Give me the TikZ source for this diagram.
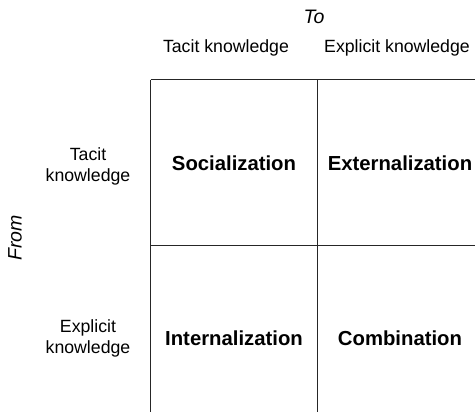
\documentclass[tikz,border=0pt]{standalone}
\usepackage{fontspec}
\setmainfont{Liberation Sans}
\tikzset{
	head/.style={font=\fontsize{17.7}{21}\selectfont, align=center},
	cell/.style={font=\fontsize{20.3}{24}\selectfont\bfseries},
	axis/.style={font=\fontsize{19.5}{23}\selectfont\itshape},
	grid/.style={line width=1pt, draw=black!85}
}
\begin{document}
\begin{tikzpicture}[x=1pt, y=-1pt]
			\useasboundingbox (0, 0) rectangle (475, 412);
			% griglia
			\coordinate (tl) at (150.5, 80);
			\coordinate (tm) at (317, 80);
			\coordinate (tr) at (475, 80);
			\coordinate (ml) at (150.5, 246);
			\coordinate (mr) at (475, 246);
			\coordinate (bl) at (150.5, 412);
			\coordinate (bm) at (317, 412);
			\draw[grid] (tl) -- (tr);
			\draw[grid] (ml) -- (mr);
			\draw[grid] (tl) -- (bl);
			\draw[grid] (tm) -- (bm);
			% intestazioni
			\node[axis] (to) at (314, 17) {To};
			\node[head] (toTacit) at (226, 48) {Tacit knowledge};
			\node[head] (toExplicit) at (397, 48) {Explicit knowledge};
			\node[axis, rotate=90] (from) at (15, 238) {From};
			\node[head] (fromTacit) at (88, 166) {Tacit\\knowledge};
			\node[head] (fromExplicit) at (88, 338) {Explicit\\knowledge};
			% celle
			\node[cell] (soc) at (234, 163) {Socialization};
			\node[cell] (ext) at (400, 163) {Externalization};
			\node[cell] (int) at (234, 338) {Internalization};
			\node[cell] (comb) at (400, 338) {Combination};
		\end{tikzpicture}
\end{document}
